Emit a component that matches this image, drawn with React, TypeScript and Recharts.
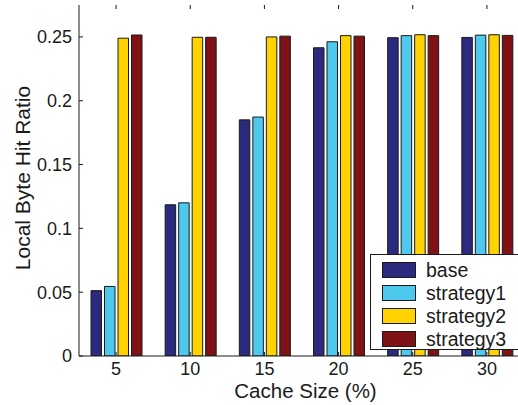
import React from "react"
import { BarChart, Bar, XAxis, YAxis, Label } from "recharts"

const cacheSizes = ["5", "10", "15", "20", "25", "30"]
const base = [0.0512, 0.1185, 0.185, 0.2415, 0.2494, 0.2496]
const strategy1 = [0.0545, 0.12, 0.1872, 0.2462, 0.251, 0.2514]
const strategy2 = [0.249, 0.2497, 0.25, 0.251, 0.2517, 0.2517]
const strategy3 = [0.2515, 0.2497, 0.2506, 0.2506, 0.251, 0.2512]
const yTicks = [0, 0.05, 0.1, 0.15, 0.2, 0.25]
const yTickLabels = ["0", "0.05", "0.1", "0.15", "0.2", "0.25"]

const series = [
  { key: "base", name: "base", color: "#2a2a7e", values: base },
  { key: "strategy1", name: "strategy1", color: "#4ec8ec", values: strategy1 },
  { key: "strategy2", name: "strategy2", color: "#ffd200", values: strategy2 },
  { key: "strategy3", name: "strategy3", color: "#7e1214", values: strategy3 },
]

const data = cacheSizes.map((size, i) => {
  const row: Record<string, string | number> = { size }
  series.forEach((s) => {
    row[s.key] = s.values[i]
  })
  return row
})

const FONT = "'Liberation Sans', Arial, Helvetica, sans-serif"
const INK = "#1a1a1a"
const PLOT_TOP = 5

function YTick(props: any) {
  const { x, y, payload } = props
  const idx = yTicks.indexOf(payload.value)
  return (
    <g>
      <text x={x} y={y} dy="0.36em" textAnchor="end" fontSize={18} fill={INK} fontFamily={FONT}>
        {yTickLabels[idx]}
      </text>
      <line x1={x + 7} x2={x + 11} y1={y} y2={y} stroke={INK} strokeWidth={1} />
    </g>
  )
}

function XTick(props: any) {
  const { x, y, payload } = props
  return (
    <g>
      <text x={x} y={y} dy="0.71em" textAnchor="middle" fontSize={18} fill={INK} fontFamily={FONT}>
        {payload.value}
      </text>
      <line x1={x} x2={x} y1={y - 6} y2={y - 10} stroke={INK} strokeWidth={1} />
      <line x1={x} x2={x} y1={PLOT_TOP} y2={PLOT_TOP + 4} stroke={INK} strokeWidth={1} />
    </g>
  )
}

export default function App() {
  return (
    <div
      style={{
        position: "absolute",
        left: 0,
        top: 0,
        width: 518,
        height: 405,
        overflow: "hidden",
        background: "#fff",
        fontFamily: FONT,
      }}
    >
      <BarChart
        width={530}
        height={405}
        data={data}
        margin={{ top: PLOT_TOP, right: 6, left: 0, bottom: 0 }}
        barSize={10.5}
        barGap={3}
      >
        <XAxis
          dataKey="size"
          height={49}
          axisLine={{ stroke: INK }}
          tickLine={false}
          tickSize={0}
          tickMargin={6}
          tick={<XTick />}
          interval={0}
        >
          <Label
            content={(p: any) => {
              const vb = p.viewBox
              return (
                <text
                  x={vb.x + vb.width / 2 + 4}
                  y={vb.y + 42}
                  textAnchor="middle"
                  fontSize={20.5}
                  fill={INK}
                  fontFamily={FONT}
                >
                  Cache Size (%)
                </text>
              )
            }}
          />
        </XAxis>
        <XAxis
          xAxisId="top"
          dataKey="size"
          orientation="top"
          height={0}
          tick={false}
          tickLine={false}
          axisLine={{ stroke: INK }}
        />
        <YAxis
          width={79}
          domain={[0, 0.275]}
          ticks={yTicks}
          allowDataOverflow
          axisLine={{ stroke: INK }}
          tickLine={false}
          tickSize={0}
          tickMargin={7}
          tick={<YTick />}
          interval={0}
        >
          <Label
            content={() => (
              <text
                x={29.5}
                y={178}
                transform="rotate(-90 29.5 178)"
                textAnchor="middle"
                fontSize={21}
                fill={INK}
                fontFamily={FONT}
              >
                Local Byte Hit Ratio
              </text>
            )}
          />
        </YAxis>
        <YAxis
          yAxisId="right"
          orientation="right"
          width={0}
          domain={[0, 0.275]}
          tick={false}
          tickLine={false}
          axisLine={{ stroke: INK }}
        />
        {series.map((s) => (
          <Bar
            key={s.key}
            dataKey={s.key}
            name={s.name}
            fill={s.color}
            stroke={INK}
            strokeWidth={1}
            isAnimationActive={false}
          />
        ))}
      </BarChart>
      <div
        style={{
          position: "absolute",
          left: 370,
          top: 254,
          width: 160,
          height: 96,
          border: `1px solid ${INK}`,
          background: "#fff",
          boxSizing: "border-box",
        }}
      >
        {series.map((s, i) => (
          <div
            key={s.key}
            style={{ position: "absolute", left: 11, top: 7 + i * 23, height: 16, display: "flex", alignItems: "center" }}
          >
            <div
              style={{
                width: 34,
                height: 16,
                background: s.color,
                border: `1px solid ${INK}`,
                boxSizing: "border-box",
              }}
            />
            <span style={{ marginLeft: 10, fontSize: 19.5, color: INK, lineHeight: "16px", whiteSpace: "nowrap" }}>
              {s.name}
            </span>
          </div>
        ))}
      </div>
    </div>
  )
}
